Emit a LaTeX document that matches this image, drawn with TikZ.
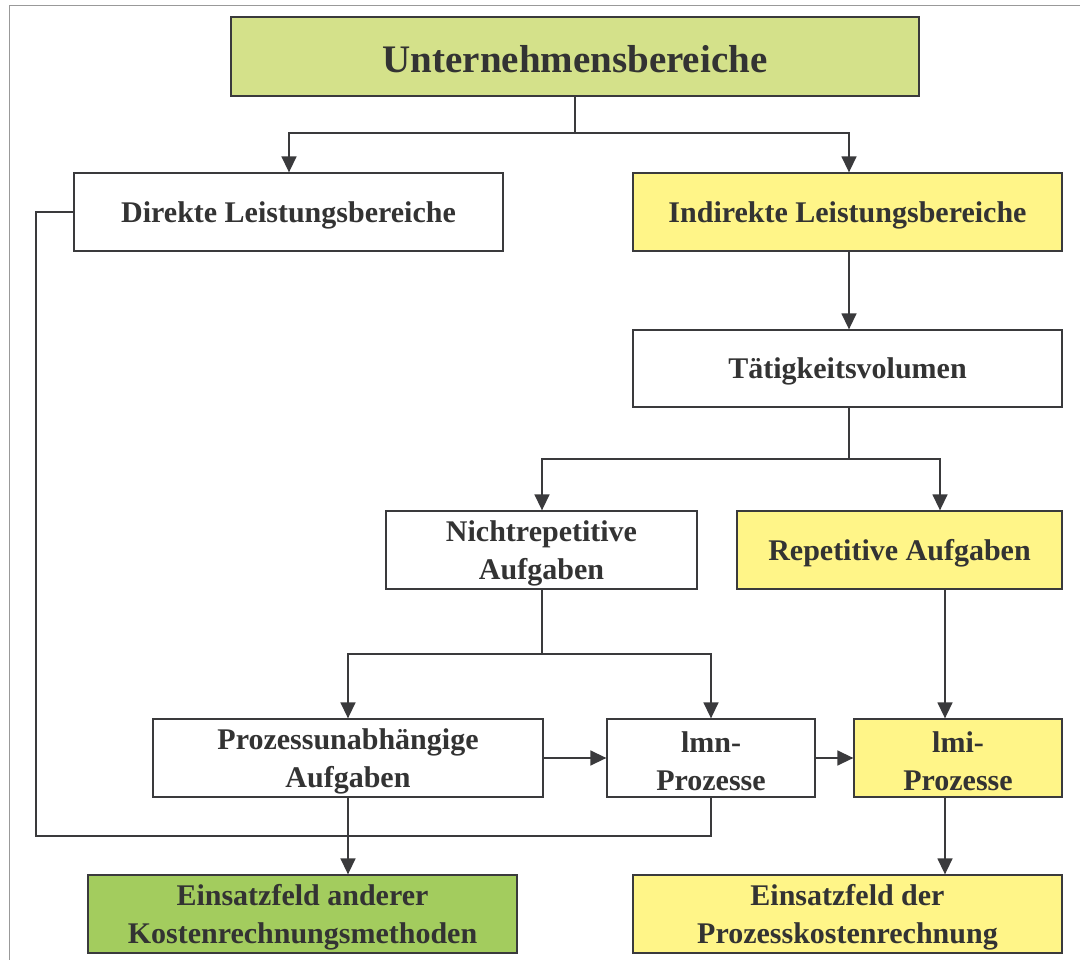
\documentclass[tikz,border=0pt]{standalone}
\usepackage{fontspec}
\setmainfont{Liberation Serif}
\usetikzlibrary{arrows.meta}
\definecolor{ink}{HTML}{333333}
\definecolor{edge}{HTML}{3A3A3C}
\definecolor{lightgreen}{HTML}{D4E18A}
\definecolor{midgreen}{HTML}{A3CC5E}
\definecolor{paleyellow}{HTML}{FFF588}
\tikzset{
  box/.style={draw=edge, line width=1.3pt, rectangle, inner sep=0pt},
  boxtext/.style={inner sep=0pt, align=center, text=ink,
    font=\fontsize{30}{38}\selectfont\bfseries},
  flow/.style={draw=edge, line width=1.5pt},
  arr/.style={flow, -{Triangle[length=16pt,width=15pt]}},
}
% place a box by its corner coordinates: name, x1, y1, x2, y2, box style, text style, text
\newcommand{\boxat}[8]{%
  \node[box, #6, minimum width={(#4)-(#2)}, minimum height={(#5)-(#3)}]
    (#1) at ({((#2)+(#4))/2},{((#3)+(#5))/2}) {};
  \node[boxtext, #7] (#1-text) at ([yshift=-3pt]#1.center) {#8};}
\begin{document}
\begin{tikzpicture}[x=1pt, y=-1pt]
\path[use as bounding box] (0,0) rectangle (1080,960);
% outer frame, open towards the right and bottom edges
\begin{scope}
  \clip (0,0) rectangle (1080,960);
  \draw[draw=gray!80, line width=1pt] (9,6) rectangle (1095,975);
\end{scope}

\boxat{top}{231}{17}{919}{96}{fill=lightgreen}{font=\fontsize{39}{46}\selectfont\bfseries}{Unternehmensbereiche}
\boxat{dir}{74}{173}{503}{251}{fill=white}{}{Direkte Leistungsbereiche}
\boxat{ind}{633}{173}{1062}{251}{fill=paleyellow}{}{Indirekte Leistungsbereiche}
\boxat{tat}{633}{330}{1062}{407}{fill=white}{}{Tätigkeitsvolumen}
\boxat{nrep}{386}{511}{697}{589}{fill=white}{}{Nichtrepetitive\\Aufgaben}
\boxat{rep}{737}{511}{1062}{589}{fill=paleyellow}{}{Repetitive Aufgaben}
\boxat{pua}{153}{719}{543}{797}{fill=white}{}{Prozessunabhängige\\Aufgaben}
\boxat{lmn}{607}{719}{815}{797}{fill=white}{}{lmn-\\Prozesse}
\boxat{lmi}{854}{719}{1062}{797}{fill=paleyellow}{}{lmi-\\Prozesse}
\boxat{ea}{88}{875}{517}{953}{fill=midgreen}{}{Einsatzfeld anderer\\Kostenrechnungsmethoden}
\boxat{ed}{633}{875}{1062}{953}{fill=paleyellow}{}{Einsatzfeld der\\Prozesskostenrechnung}

% branch points and connector columns
\coordinate (s1) at (575,133);
\coordinate (xl) at (289,0);
\coordinate (xi) at (849,0);
\coordinate (s2) at (849,459);
\coordinate (s3) at (542,654);
\coordinate (xr) at (945,0);

% Unternehmensbereiche splits into direct and indirect areas
\draw[flow] (top.south) -- (s1);
\draw[arr] (s1) -| (dir.north -| xl);
\draw[arr] (s1) -| (ind.north -| xi);
\draw[arr] (ind.south -| xi) -- (tat.north -| xi);
% Tätigkeitsvolumen splits into task types
\draw[flow] (tat.south -| s2) -- (s2);
\draw[arr] (s2) -| (nrep.north -| s3);
\draw[arr] (s2) -| ([xshift=-5pt]rep.north -| xr);
% non-repetitive tasks split
\draw[flow] (nrep.south -| s3) -- (s3);
\draw[arr] (s3) -| (pua.north);
\draw[arr] (s3) -| (lmn.north);
% process chain
\draw[arr] (pua.east) -- (lmn.west);
\draw[arr] (lmn.east) -- (lmi.west);
\draw[arr] (rep.south -| xr) -- (lmi.north -| xr);
\draw[arr] (lmi.south -| xr) -- (ed.north -| xr);
\draw[arr] (pua.south) -- (pua.south |- ea.north);
% return line from the direct areas around to the lmn processes
\coordinate (lb) at (36,836);
\draw[flow] (dir.west) -| (lb) -| (lmn.south);
\end{tikzpicture}
\end{document}
